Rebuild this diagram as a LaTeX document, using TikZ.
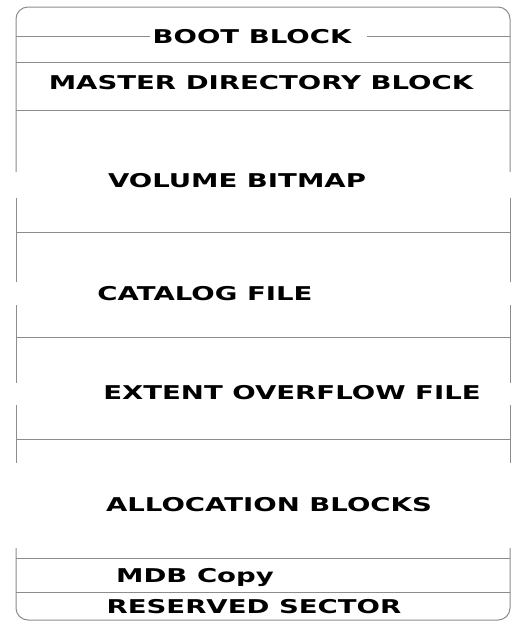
\documentclass[tikz,border=0pt]{standalone}
\usepackage{fontspec}
\newfontfamily\blockfont{DejaVu Sans}
\usetikzlibrary{positioning}

\begin{document}
\begin{tikzpicture}[
    % GLOBAL CFG
    x=1pt, y=-1pt,
    % Styles
    wall/.style={% For the outline of the volume
        draw=black!45,
        line width=1pt,
        rounded corners=12pt,
        },
    divider/.style={% For the lines between the areas
        draw=black!45,
        line width=1pt,
        },
    area/.style={% For the names of the areas
        font=\blockfont\bfseries\fontsize{19}{22}\selectfont,
        anchor=base,
        inner sep=0pt,
        xscale=1.45,
        },
    ]

    \useasboundingbox (0,0) rectangle (516,622);

    \newcommand{\leftwall}{16}
    \newcommand{\rightwall}{510}

%Start drawing the thing...
    % Outline: top part and bottom part
    \draw [wall] (\leftwall,172) -- (\leftwall,7) -- (\rightwall,7) -- (\rightwall,172);
    \draw [wall] (\leftwall,548) -- (\leftwall,620) -- (\rightwall,620) -- (\rightwall,548);

    % Outline: pieces of the sides between the names
    \foreach \top/\bottom in {198/282, 305/383, 405/463}{
        \draw [divider] (\leftwall,\top) -- (\leftwall,\bottom);
        \draw [divider] (\rightwall,\top) -- (\rightwall,\bottom);
    }

    % Draw the names of the areas
    \node [area] (boot) at (252,43) {BOOT BLOCK};
    \node [area] (mdb) at (261,89) {MASTER DIRECTORY BLOCK};
    \node [area] (bitmap) at (237,187) {VOLUME BITMAP};
    \node [area] (catalog) at (205,300) {CATALOG FILE};
    \node [area] (extent) at (292,399) {EXTENT OVERFLOW FILE};
    \node [area] (alloc) at (269,511) {ALLOCATION BLOCKS};
    \node [area] (mdbcopy) at (195,582) {MDB Copy};
    \node [area] (reserved) at (254,613) {RESERVED SECTOR};

    % Dividers
    \draw [divider] (\leftwall,36) -- (150,36);
    \draw [divider] (367,36) -- (\rightwall,36);
    \foreach \y in {62, 110, 232, 337, 439, 558, 592}{
        \draw [divider] (\leftwall,\y) -- (\rightwall,\y);
    }

\end{tikzpicture}
\end{document}
